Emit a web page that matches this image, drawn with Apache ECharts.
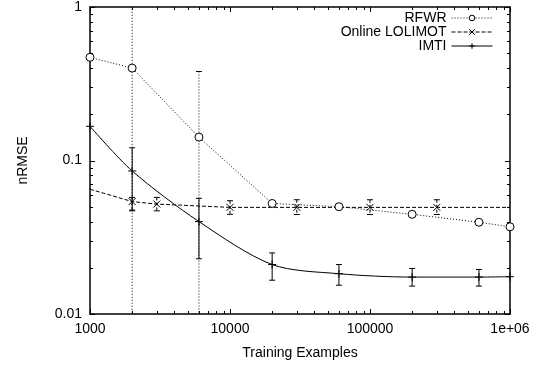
<!DOCTYPE html>
<html>
<head>
<meta charset="utf-8">
<script src="https://cdn.jsdelivr.net/npm/echarts@6/dist/echarts.min.js"></script>
<style>
html,body{margin:0;padding:0;background:#fff;}
#chart{width:542px;height:365px;}
</style>
</head>
<body>
<div id="chart"></div>
<script>
// RFWR
var rfwrX = [1000, 2000, 6000, 20000, 60000, 200000, 600000, 1000000];
var rfwrY = [0.47, 0.40, 0.142, 0.0525, 0.050, 0.0446, 0.0396, 0.037];
var rfwrErrX = [2000, 6000];
var rfwrErrLow = [0.001, 0.001];
var rfwrErrHigh = [2, 0.38];
// Online LOLIMOT
var lolX = [1000, 2000, 3000, 10000, 30000, 100000, 300000, 1000000];
var lolY = [0.065, 0.054, 0.052, 0.0495, 0.0495, 0.0495, 0.0495, 0.0495];
var lolErrX = [2000, 3000, 10000, 30000, 100000, 300000];
var lolErrLow = [0.0475, 0.047, 0.0446, 0.0445, 0.0445, 0.0445];
var lolErrHigh = [0.0575, 0.0575, 0.0547, 0.0555, 0.0555, 0.0555];
// IMTI
var imtiX = [1000, 2000, 6000, 20000, 60000, 200000, 600000, 1000000];
var imtiY = [0.167, 0.0855, 0.040, 0.021, 0.0183, 0.0174, 0.0174, 0.0175];
var imtiErrX = [2000, 6000, 20000, 60000, 200000, 600000];
var imtiErrLow = [0.047, 0.0229, 0.0166, 0.0154, 0.0152, 0.0152];
var imtiErrHigh = [0.121, 0.0567, 0.025, 0.021, 0.0198, 0.0195];

// 刻度
var xMajorTicks = [1000, 10000, 100000, 1000000];
var yMajorTicks = [0.01, 0.1, 1];
var minorSteps = [2, 3, 4, 5, 6, 7, 8, 9];

var FONT = 'Liberation Sans';

function pairs(xs, ys){
	return xs.map(function(x, i){ return [x, ys[i]]; });
}
function triples(xs, lo, hi){
	return xs.map(function(x, i){ return [x, lo[i], hi[i]]; });
}
function minorOf(majors){
	var out = [];
	for (var i = 0; i < majors.length - 1; i++) {
		minorSteps.forEach(function(m){ out.push(+(majors[i] * m).toPrecision(6)); });
	}
	return out;
}

// 误差棒
function errBar(name, data, dash){
	return {
		name: name,
		type: 'custom',
		clip: true,
		z: 3,
		data: data,
		encode: { x: 0, y: [1, 2] },
		renderItem: function(params, api){
			var top = api.coord([api.value(0), api.value(2)]);
			var bot = api.coord([api.value(0), api.value(1)]);
			var st = { stroke: '#000', lineWidth: 1, lineDash: dash, fill: null };
			return {
				type: 'group',
				children: [
					{ type: 'line', shape: { x1: top[0], y1: top[1], x2: bot[0], y2: bot[1] }, style: st },
					{ type: 'line', shape: { x1: top[0]-3, y1: top[1], x2: top[0]+3, y2: top[1] }, style: { stroke: '#000', lineWidth: 1 } },
					{ type: 'line', shape: { x1: bot[0]-3, y1: bot[1], x2: bot[0]+3, y2: bot[1] }, style: { stroke: '#000', lineWidth: 1 } }
				]
			};
		}
	};
}

// 四边的刻度线（向内）
function tickSeries(values, isX, len){
	return {
		type: 'custom',
		silent: true,
		clip: false,
		z: 6,
		data: values.map(function(v){ return isX ? [v, 0.1] : [10000, v]; }),
		encode: { x: 0, y: 1 },
		renderItem: function(params, api){
			var cs = params.coordSys;
			var st = { stroke: '#000', lineWidth: 1 };
			if (isX) {
				var x = Math.round(api.coord([api.value(0), 0.1])[0]) + 0.5;
				var yb = cs.y + cs.height, yt = cs.y;
				return { type: 'group', children: [
					{ type: 'line', shape: { x1: x, y1: yb, x2: x, y2: yb - len }, style: st },
					{ type: 'line', shape: { x1: x, y1: yt, x2: x, y2: yt + len }, style: st }
				]};
			}
			var y = Math.round(api.coord([10000, api.value(1)])[1]) + 0.5;
			var xl = cs.x, xr = cs.x + cs.width;
			return { type: 'group', children: [
				{ type: 'line', shape: { x1: xl, y1: y, x2: xl + len, y2: y }, style: st },
				{ type: 'line', shape: { x1: xr, y1: y, x2: xr - len, y2: y }, style: st }
			]};
		}
	};
}

function ax(extra){
	var o = {
		type: 'log',
		logBase: 10,
		axisLine: { show: true, lineStyle: { color: '#000', width: 1.5 } },
		axisTick: { show: false },
		splitLine: { show: false }
	};
	for (var k in extra) o[k] = extra[k];
	return o;
}

var chart = echarts.init(document.getElementById('chart'));
chart.setOption({
	animation: false,
	textStyle: { fontFamily: FONT },
	grid: { left: 90, right: 32, top: 5, bottom: 51 },
	legend: {
		orient: 'vertical',
		right: 49,
		top: 11,
		padding: 0,
		align: 'right',
		itemWidth: 41,
		itemHeight: 7,
		itemGap: 0,
		lineStyle: { width: 1 },
		itemStyle: { borderWidth: 1 },
		textStyle: { fontFamily: FONT, fontSize: 14, lineHeight: 14, color: '#000' },
		data: ['RFWR', 'Online LOLIMOT', 'IMTI']
	},
	xAxis: [
		ax({
			min: 1000, max: 1000000,
			name: 'Training Examples', nameLocation: 'middle', nameGap: 32,
			nameTextStyle: { fontFamily: FONT, fontSize: 14, color: '#000' },
			axisLabel: {
				fontFamily: FONT, fontSize: 14, color: '#000', margin: 8,
				formatter: function(v){ return v >= 1000000 ? '1e+06' : String(v); }
			}
		}),
		ax({ min: 1000, max: 1000000, position: 'top', axisLabel: { show: false } })
	],
	yAxis: [
		ax({
			min: 0.01, max: 1,
			name: 'nRMSE', nameLocation: 'middle', nameGap: 60,
			nameTextStyle: { fontFamily: FONT, fontSize: 14, color: '#000' },
			axisLabel: {
				fontFamily: FONT, fontSize: 14, color: '#000', margin: 8,
				formatter: function(v){ return String(v); }
			}
		}),
		ax({ min: 0.01, max: 1, position: 'right', axisLabel: { show: false } })
	],
	series: [
		{
			name: 'RFWR', type: 'line', data: pairs(rfwrX, rfwrY),
			symbol: 'circle', symbolSize: 8, showSymbol: true,
			itemStyle: { color: '#fff', borderColor: '#000', borderWidth: 1 },
			lineStyle: { color: '#000', width: 1, type: [1, 2] },
			z: 4
		},
		{
			name: 'Online LOLIMOT', type: 'line', data: pairs(lolX, lolY),
			symbol: 'path://M0,0L10,10M10,0L0,10',
			symbolSize: function(v, p){ return (p.dataIndex === 0 || p.dataIndex === lolX.length - 1) ? 0 : 7; },
			itemStyle: { color: 'none', borderColor: '#000', borderWidth: 1 },
			lineStyle: { color: '#000', width: 1, type: [4, 2] },
			z: 4
		},
		{
			name: 'IMTI', type: 'line', data: pairs(imtiX, imtiY), smooth: 0.3,
			symbol: 'path://M5,0L5,10M0,5L10,5', symbolSize: 8,
			itemStyle: { color: 'none', borderColor: '#000', borderWidth: 1 },
			lineStyle: { color: '#000', width: 1 },
			z: 4
		},
		errBar('RFWR', triples(rfwrErrX, rfwrErrLow, rfwrErrHigh), [1, 2]),
		errBar('Online LOLIMOT', triples(lolErrX, lolErrLow, lolErrHigh), [3, 2]),
		errBar('IMTI', triples(imtiErrX, imtiErrLow, imtiErrHigh), null),
		tickSeries(xMajorTicks, true, 5),
		tickSeries(minorOf(xMajorTicks), true, 3),
		tickSeries(yMajorTicks, false, 5),
		tickSeries(minorOf(yMajorTicks), false, 3)
	]
});
</script>
</body>
</html>
